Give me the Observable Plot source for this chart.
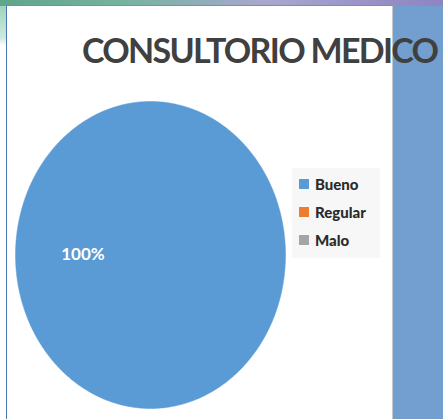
<!DOCTYPE html>
<html>
<head>
<meta charset="utf-8">
<script src="https://cdn.jsdelivr.net/npm/d3@7"></script>
<script src="https://cdn.jsdelivr.net/npm/@observablehq/plot@0.6"></script>
<style>
  html, body { margin: 0; padding: 0; }
  body { width: 443px; height: 419px; overflow: hidden; position: relative; background: #ffffff; font-family: Lato, "Open Sans", sans-serif; }
  #topband { position: absolute; left: 0; top: 0; width: 443px; height: 6px;
    background: linear-gradient(90deg, #5ea58c 0%, #78b3a2 30%, #a9a7cf 60%, #8d84c1 100%); }
  #leftdeco { position: absolute; left: 0; top: 6px; width: 6px; height: 40px;
    background: linear-gradient(180deg, #9fd3bd 0%, #cdeadf 80%, #ffffff 100%); }
  #panel { position: absolute; left: 6px; top: 5px; width: 386px; height: 414px;
    background: #ffffff; border-left: 1px solid #4a76b8; border-top: 1px solid #6d8fc2; box-sizing: border-box; }
  #strip { position: absolute; left: 392px; top: 6px; width: 51px; height: 413px;
    background: #729fd0; border-left: 1px solid #c8c8c8; box-sizing: border-box; }
  #title { position: absolute; left: 82px; top: 33px; font-family: Lato, "Open Sans", sans-serif; font-weight: bold;
    font-size: 34px; line-height: 34px; letter-spacing: -1.7px; color: #404040; white-space: nowrap; }
  #pie { position: absolute; left: 14px; top: 100px; }
  #legend { position: absolute; left: 292px; top: 168px; width: 88px; height: 90px; background: #f7f7f7; }
  .item { position: absolute; left: 7px; height: 14px; display: flex; align-items: center;
    font-weight: 900; font-size: 15px; color: #2b2b2b; }
  .sw { width: 10px; height: 10px; margin-right: 6px; }
</style>
</head>
<body>
<div id="topband"></div>
<div id="leftdeco"></div>
<div id="panel"></div>
<div id="strip"></div>
<div id="title">CONSULTORIO MEDICO</div>
<div id="pie"></div>
<div id="legend"></div>
<script>
// ---- data ----
const categories = ["Bueno", "Regular", "Malo"];
const values = [100, 0, 0];
const colors = ["#5b9bd5", "#ed7d31", "#a5a5a5"];

// ---- build slices ----
const total = d3.sum(values);
const pieGen = d3.pie().sort(null).startAngle(0).endAngle(2 * Math.PI);
const arcs = pieGen(values);
const marks = [];
const labels = [];
arcs.forEach((a, i) => {
  if (values[i] <= 0) return;
  const pts = [];
  const full = (a.endAngle - a.startAngle) >= 2 * Math.PI - 1e-9;
  if (!full) pts.push({x: 0, y: 0});
  const n = Math.max(2, Math.ceil((a.endAngle - a.startAngle) / (Math.PI / 360)));
  for (let k = 0; k <= n; k++) {
    const t = a.startAngle + (a.endAngle - a.startAngle) * k / n;
    pts.push({x: Math.cos(t), y: Math.sin(t)});
  }
  marks.push(Plot.line(pts, {x: "x", y: "y", fill: colors[i], stroke: colors[i], strokeWidth: 0.5, curve: "linear"}));
  const mid = (a.startAngle + a.endAngle) / 2;
  labels.push({x: 0.5 * Math.cos(mid), y: 0.5 * Math.sin(mid), text: Math.round(values[i] / total * 100) + "%"});
});
marks.push(Plot.text(labels, {x: "x", y: "y", text: "text", fill: "white", fontSize: 17, fontWeight: "bold",
  fontFamily: "Lato, 'Open Sans', sans-serif"}));

const chart = Plot.plot({
  width: 272, height: 309,
  margin: 1,
  x: {domain: [-1, 1], axis: null},
  y: {domain: [-1, 1], axis: null},
  style: {background: "transparent", overflow: "visible"},
  marks
});
document.getElementById("pie").appendChild(chart);

// ---- legend ----
const legend = document.getElementById("legend");
categories.forEach((c, i) => {
  const it = document.createElement("div");
  it.className = "item";
  it.style.top = (9 + i * 28) + "px";
  const sw = document.createElement("div");
  sw.className = "sw";
  sw.style.background = colors[i];
  const tx = document.createElement("span");
  tx.textContent = c;
  it.appendChild(sw);
  it.appendChild(tx);
  legend.appendChild(it);
});
</script>
</body>
</html>
